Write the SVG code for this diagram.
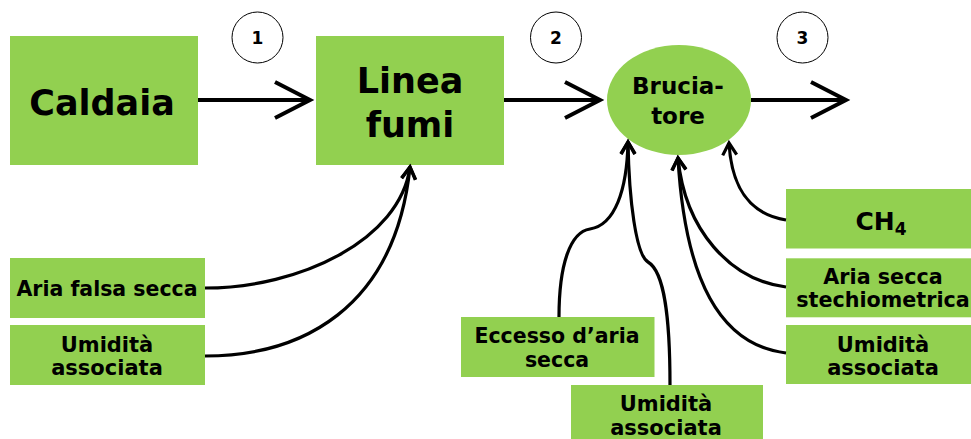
<svg xmlns="http://www.w3.org/2000/svg" width="971" height="439" viewBox="0 0 971 439">
<style>
.box{fill:#92D050}
.t{font-family:"DejaVu Sans",sans-serif;font-weight:bold;fill:#000;text-anchor:middle}
.num{font-family:"DejaVu Sans",sans-serif;font-weight:bold;font-size:17px;text-anchor:middle}
.ring{fill:#fff;stroke:#000;stroke-width:1}
.main{fill:none;stroke:#000;stroke-width:4}
.con{fill:none;stroke:#000;stroke-width:3.2}
</style>
<defs>
<marker id="big" markerUnits="userSpaceOnUse" markerWidth="50" markerHeight="50" viewBox="-40 -25 50 50" refX="0" refY="0" orient="auto" overflow="visible">
<path d="M-35,-18 L0,0 L-35,18" fill="none" stroke="#000" stroke-width="4"/>
</marker>
<marker id="sm" markerUnits="userSpaceOnUse" markerWidth="30" markerHeight="30" viewBox="-15 -15 30 30" refX="0" refY="0" orient="auto" overflow="visible">
<path d="M-12,-7 L0,0 L-12,7" fill="none" stroke="#000" stroke-width="3.2"/>
</marker>
</defs>

<g id="markers-circles">
<g id="step1"><circle class="ring" cx="257.5" cy="37.5" r="25.5"/><text class="num" x="257.5" y="43.5">1</text></g>
<g id="step2"><circle class="ring" cx="556" cy="37.5" r="25.5"/><text class="num" x="556" y="43.5">2</text></g>
<g id="step3"><circle class="ring" cx="802.5" cy="37.5" r="25.5"/><text class="num" x="802.5" y="43.5">3</text></g>
</g>

<g id="caldaia"><rect class="box" x="10" y="36" width="188" height="129"/><text class="t" x="102" y="115" font-size="35">Caldaia</text></g>
<g id="linea-fumi"><rect class="box" x="316" y="36" width="188" height="129"/><text class="t" x="410" y="93" font-size="35">Linea</text><text class="t" x="410" y="137" font-size="35">fumi</text></g>
<g id="bruciatore"><ellipse class="box" cx="679" cy="100" rx="72" ry="55"/><text class="t" x="678" y="94" font-size="23">Brucia-</text><text class="t" x="678" y="124" font-size="23">tore</text></g>

<g id="aria-falsa"><rect class="box" x="10" y="258" width="195" height="60"/><text class="t" x="107" y="296" font-size="20.5">Aria falsa secca</text></g>
<g id="umidita-1"><rect class="box" x="10" y="325" width="195" height="60"/><text class="t" x="107" y="351.7" font-size="21">Umidità</text><text class="t" x="107" y="375" font-size="21">associata</text></g>

<g id="eccesso"><rect class="box" x="461" y="317" width="193.5" height="60"/><text class="t" x="557" y="342.7" font-size="20.5">Eccesso d’aria</text><text class="t" x="557" y="367.3" font-size="20.5">secca</text></g>
<g id="umidita-2"><rect class="box" x="571" y="385" width="192" height="60"/><text class="t" x="666" y="410.7" font-size="21">Umidità</text><text class="t" x="666" y="435" font-size="21">associata</text></g>

<g id="ch4"><rect class="box" x="786" y="189" width="190" height="59.5"/><text class="t" x="881" y="229.5" font-size="25">CH<tspan font-size="17" dy="5">4</tspan></text></g>
<g id="aria-stech"><rect class="box" x="786" y="258.3" width="190" height="59"/><text class="t" x="883" y="284" font-size="20.7">Aria secca</text><text class="t" x="883" y="307.3" font-size="20.7">stechiometrica</text></g>
<g id="umidita-3"><rect class="box" x="786" y="325" width="190" height="59"/><text class="t" x="883" y="351.7" font-size="21">Umidità</text><text class="t" x="883" y="375" font-size="21">associata</text></g>

<g id="connectors">
<path class="main" d="M198,100 L310,100" marker-end="url(#big)"/>
<path class="main" d="M504,100 L600,100" marker-end="url(#big)"/>
<path class="main" d="M751,100 L846,100" marker-end="url(#big)"/>
<path class="con" d="M205,288 C300,288 400,240 410,167" marker-end="url(#sm)"/>
<path class="con" d="M205,356 C300,356 395,310 410,167" marker-end="url(#sm)"/>
<path class="con" d="M559,317 C559,265 570,232 590,229 C615,225 627,190 628,142" marker-end="url(#sm)"/>
<path class="con" d="M670,385 C670,320 665,272 648,262 C636,255 629,200 628,142" marker-end="url(#sm)"/>
<path class="con" d="M786,287 C730,280 685,230 678,158" marker-end="url(#sm)"/>
<path class="con" d="M786,353 C720,345 685,280 678,158" marker-end="url(#sm)"/>
<path class="con" d="M786,220 C755,215 732,195 729,143" marker-end="url(#sm)"/>
</g>
</svg>
